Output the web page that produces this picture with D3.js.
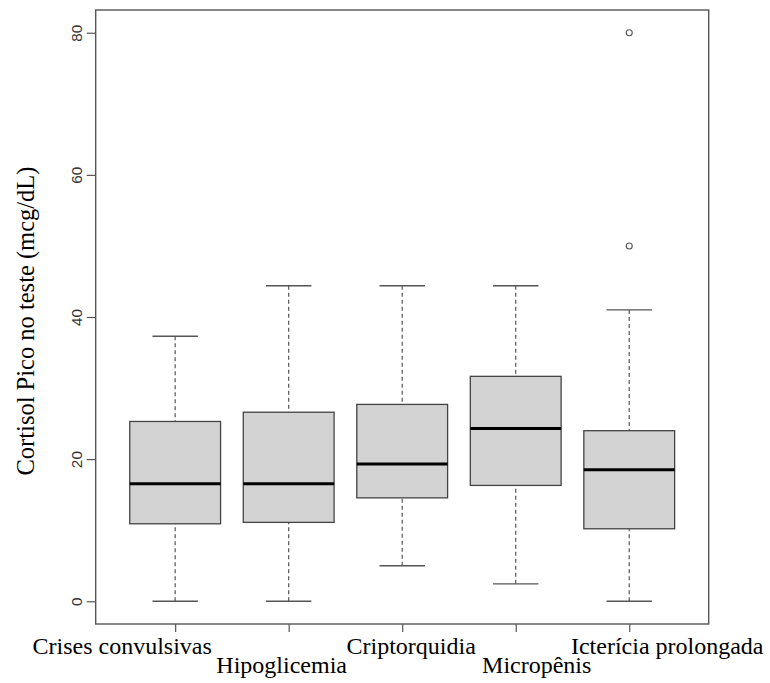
<!DOCTYPE html>
<html>
<head>
<meta charset="utf-8">
<script src="https://cdn.jsdelivr.net/npm/d3@7"></script>
<style>
  html, body { margin: 0; padding: 0; background: #fff; }
  svg { display: block; }
</style>
</head>
<body>
<svg id="chart" width="770" height="683"></svg>
<script>
// Peak cortisol by clinical presentation: five-number summaries per group
const categories  = ["Crises convulsivas", "Hipoglicemia", "Criptorquidia", "Micropênis", "Icterícia prolongada"];
const whiskerLow  = [0, 0, 5.0, 2.45, 0];
const q1          = [10.9, 11.1, 14.55, 16.3, 10.2];
const median      = [16.55, 16.55, 19.3, 24.3, 18.5];
const q3          = [25.3, 26.6, 27.7, 31.65, 24.0];
const whiskerHigh = [37.3, 44.4, 44.4, 44.4, 41.0];
const outliers    = [[], [], [], [], [50, 80]];
const yTicks      = [0, 20, 40, 60, 80];
const yTitle      = "Cortisol Pico no teste (mcg/dL)";

// Label layout: horizontal nudge from the tick and which text row it sits on
const labelShift = [-53, -7, 9, 21, 38];
const labelRow   = [0, 1, 0, 1, 0];

const frame = { left: 95.7, right: 708.7, top: 10, bottom: 624 };
const svg = d3.select("#chart");

const x = d3.scaleLinear().domain([0.3, categories.length + 0.7]).range([frame.left, frame.right]);
const y = d3.scaleLinear().domain([-3.2, 83.2]).range([frame.bottom, frame.top]);

const grey = "#555";
const boxHalf = x(1.4) - x(1);      // half box width = 0.4 units
const capHalf = boxHalf / 2;

const rows = categories.map((c, i) => ({
  c, i: i + 1,
  lo: whiskerLow[i], q1: q1[i], med: median[i], q3: q3[i], hi: whiskerHigh[i],
  out: outliers[i]
}));

const g = svg.append("g");

// Dashed whiskers
g.selectAll("line.wlow").data(rows).join("line")
  .attr("x1", d => x(d.i)).attr("x2", d => x(d.i))
  .attr("y1", d => y(d.lo)).attr("y2", d => y(d.q1))
  .attr("stroke", grey).attr("stroke-width", 1.2).attr("stroke-dasharray", "4,3");
g.selectAll("line.whigh").data(rows).join("line")
  .attr("x1", d => x(d.i)).attr("x2", d => x(d.i))
  .attr("y1", d => y(d.hi)).attr("y2", d => y(d.q3))
  .attr("stroke", grey).attr("stroke-width", 1.2).attr("stroke-dasharray", "4,3");

// Staples
g.selectAll("line.caplo").data(rows).join("line")
  .attr("x1", d => x(d.i) - capHalf).attr("x2", d => x(d.i) + capHalf)
  .attr("y1", d => y(d.lo)).attr("y2", d => y(d.lo))
  .attr("stroke", grey).attr("stroke-width", 1.4);
g.selectAll("line.caphi").data(rows).join("line")
  .attr("x1", d => x(d.i) - capHalf).attr("x2", d => x(d.i) + capHalf)
  .attr("y1", d => y(d.hi)).attr("y2", d => y(d.hi))
  .attr("stroke", grey).attr("stroke-width", 1.4);

// Boxes
g.selectAll("rect.box").data(rows).join("rect")
  .attr("x", d => x(d.i) - boxHalf).attr("width", 2 * boxHalf)
  .attr("y", d => y(d.q3)).attr("height", d => y(d.q1) - y(d.q3))
  .attr("fill", "#d3d3d3").attr("stroke", "#444").attr("stroke-width", 1.3);

// Medians
g.selectAll("line.med").data(rows).join("line")
  .attr("x1", d => x(d.i) - boxHalf).attr("x2", d => x(d.i) + boxHalf)
  .attr("y1", d => y(d.med)).attr("y2", d => y(d.med))
  .attr("stroke", "#000").attr("stroke-width", 3);

// Outliers
g.selectAll("g.out").data(rows).join("g")
  .selectAll("circle").data(d => d.out.map(v => ({ i: d.i, v }))).join("circle")
  .attr("cx", d => x(d.i)).attr("cy", d => y(d.v)).attr("r", 3)
  .attr("fill", "none").attr("stroke", grey).attr("stroke-width", 1.1);

// Plot frame
svg.append("rect")
  .attr("x", frame.left).attr("y", frame.top)
  .attr("width", frame.right - frame.left).attr("height", frame.bottom - frame.top)
  .attr("fill", "none").attr("stroke", grey).attr("stroke-width", 1.4);

// Y axis
const yAxis = svg.append("g")
  .attr("transform", `translate(${frame.left},0)`)
  .call(d3.axisLeft(y).tickValues(yTicks).tickSize(9).tickFormat(d3.format("d")));
yAxis.select(".domain").remove();
yAxis.selectAll(".tick line").attr("stroke", grey).attr("stroke-width", 1.2);
yAxis.selectAll(".tick text")
  .attr("x", null).attr("dy", null)
  .attr("transform", "translate(-14,0) rotate(-90)")
  .attr("text-anchor", "middle")
  .attr("fill", "#333")
  .style("font-family", "'Liberation Sans', Arial, Helvetica, sans-serif")
  .style("font-size", "15.3px");

// X axis ticks
const xAxis = svg.append("g")
  .attr("transform", `translate(0,${frame.bottom})`)
  .call(d3.axisBottom(x).tickValues(d3.range(1, categories.length + 1)).tickSize(8).tickFormat(""));
xAxis.select(".domain").remove();
xAxis.selectAll(".tick line").attr("stroke", grey).attr("stroke-width", 1.2);

// Category labels on two staggered rows
svg.append("g").selectAll("text").data(rows).join("text")
  .attr("x", (d, k) => x(d.i) + labelShift[k])
  .attr("y", (d, k) => labelRow[k] ? 672.5 : 653.5)
  .attr("text-anchor", "middle")
  .style("font-family", "'Liberation Serif', 'Times New Roman', serif")
  .style("font-size", "24px")
  .attr("fill", "#000")
  .text(d => d.c);

// Y axis title
svg.append("text")
  .attr("transform", `translate(34,${(frame.top + frame.bottom) / 2 + 4}) rotate(-90)`)
  .attr("text-anchor", "middle")
  .style("font-family", "'Liberation Serif', 'Times New Roman', serif")
  .style("font-size", "24.5px")
  .attr("fill", "#000")
  .text(yTitle);
</script>
</body>
</html>
